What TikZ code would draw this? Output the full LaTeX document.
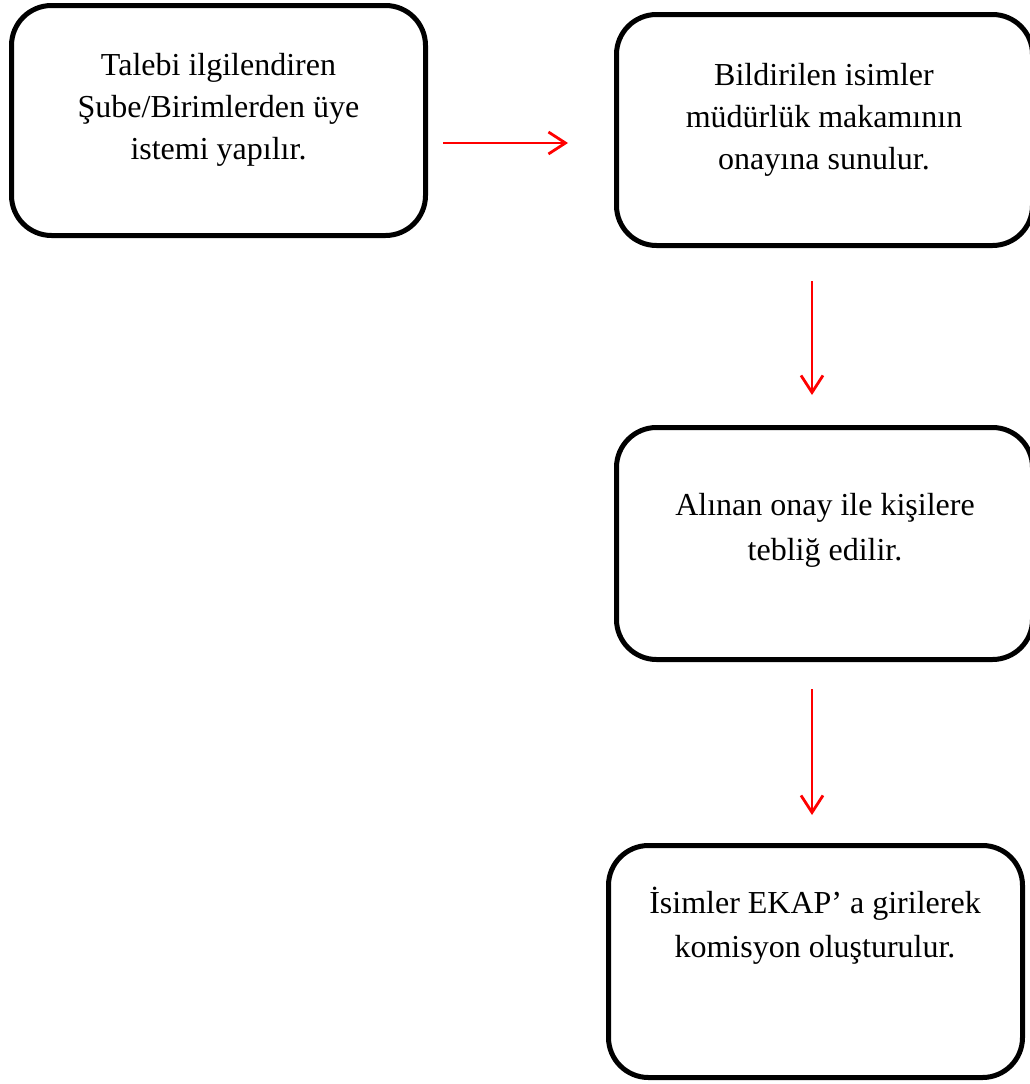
\documentclass[tikz,border=0pt]{standalone}
\usepackage{fontspec}
\setmainfont{Liberation Serif}
\usetikzlibrary{arrows.meta}
\begin{document}
\begin{tikzpicture}[x=1pt,y=-1pt,
  stepbox/.style={draw=black,line width=5pt,rounded corners=40pt,
    minimum width=#1,minimum height=231pt,inner sep=0pt,outer sep=0pt},
  stepbox/.default=415pt,
  boxtext/.style={anchor=north,inner sep=0pt,align=center,
    font=\fontsize{32}{42}\selectfont},
  flow/.style={draw=red,line width=2.8pt,
    -{Straight Barb[length=17pt,width=22pt,line width=2.8pt]}}]
\useasboundingbox (0,0) rectangle (1030,1084);
% process boxes
\node[stepbox=414pt,minimum height=230pt] (b1) at (218.5,120.5) {};
\node[stepbox=416pt] (b2) at (824.5,130) {};
\node[stepbox=416pt,minimum height=232pt] (b3) at (824.5,543.5) {};
\node[stepbox=414pt,minimum height=232pt] (b4) at (815.5,961.5) {};
% box texts
\node[boxtext] (t1) at (218.5,53) {Talebi ilgilendiren\\Şube/Birimlerden üye\\istemi yapılır.};
\node[boxtext] (t2) at (824,63) {Bildirilen isimler\\müdürlük makamının\\onayına sunulur.};
\node[boxtext,font=\fontsize{32}{45}\selectfont] (t3) at (825,493) {Alınan onay ile kişilere\\tebliğ edilir.};
\node[boxtext,font=\fontsize{32}{44}\selectfont] (t4) at (815,887) {İsimler EKAP’ a girilerek\\komisyon oluşturulur.};
% connectors
\coordinate (hy) at (0,143);
\coordinate (vx) at (812,0);
\draw[flow,shorten <=17.5pt,shorten >=48.5pt] (b1.east |- hy) -- (b2.west |- hy);
\draw[flow,shorten <=35.5pt,shorten >=32.5pt] (b2.south -| vx) -- (b3.north -| vx);
\draw[flow,shorten <=29.5pt,shorten >=30.5pt] (b3.south -| vx) -- (b4.north -| vx);
\end{tikzpicture}
\end{document}
